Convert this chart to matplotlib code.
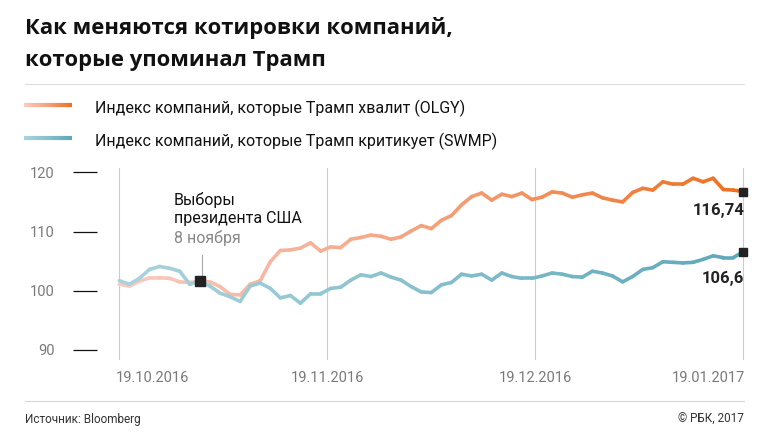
import numpy as np
import matplotlib
matplotlib.use('Agg')
import matplotlib.pyplot as plt
from matplotlib.collections import LineCollection
from matplotlib.colors import LinearSegmentedColormap

plt.rcParams['font.family'] = ['Roboto', 'DejaVu Sans']

# данные (торговые дни, индекс = 100 на старте)
olgy = [101.1, 100.8, 101.6, 102.2, 102.2, 102.1, 101.5, 101.4, 101.6, 101.5,
        100.7, 99.4, 99.3, 101.1, 101.7, 104.9, 106.8, 106.9, 107.2, 108.1,
        106.7, 107.4, 107.3, 108.7, 109.0, 109.4, 109.2, 108.7, 109.1, 110.1,
        111.0, 110.5, 111.9, 112.7, 114.5, 115.9, 116.5, 115.3, 116.3, 115.9,
        116.5, 115.4, 115.8, 116.7, 116.5, 115.8, 116.2, 116.5, 115.7, 115.3,
        115.0, 116.6, 117.3, 117.0, 118.4, 118.0, 118.0, 119.0, 118.4, 119.0,
        117.1, 117.0, 116.74]
swmp = [101.7, 101.1, 102.1, 103.6, 104.1, 103.8, 103.3, 101.1, 101.6, 100.8,
        99.6, 99.0, 98.2, 100.8, 101.3, 100.4, 98.8, 99.2, 97.9, 99.5,
        99.5, 100.4, 100.6, 101.8, 102.7, 102.4, 103.0, 102.3, 101.8, 100.7,
        99.8, 99.7, 101.0, 101.4, 102.8, 102.5, 102.8, 101.8, 103.0, 102.4,
        102.1, 102.1, 102.5, 103.0, 102.8, 102.4, 102.3, 103.3, 103.0, 102.5,
        101.5, 102.4, 103.6, 103.9, 104.9, 104.8, 104.7, 104.8, 105.3, 105.9,
        105.6, 105.6, 106.6]
date_labels = ['19.10.2016', '19.11.2016', '19.12.2016', '19.01.2017']
date_pos = [0, 20.67, 41.33, 62]
election_idx = 8
y_ticks = [90, 100, 110, 120]

W, H = 768, 445
orange_cmap = LinearSegmentedColormap.from_list('o', ['#f9cac0', '#f4a17c', '#ef7020'])
blue_cmap = LinearSegmentedColormap.from_list('b', ['#a9d3dc', '#86bfcc', '#5ea8ba'])


def px(x, y):
    return x / W, 1 - y / H


def grad_line(ax, x, y, cmap, lw, z):
    pts = np.column_stack([x, y]).reshape(-1, 1, 2)
    segs = np.concatenate([pts[:-1], pts[1:]], axis=1)
    t = np.linspace(0, 1, len(segs))
    lc = LineCollection(segs, colors=cmap(t), linewidths=lw,
                        capstyle='round', joinstyle='round', zorder=z)
    ax.add_collection(lc)


fig = plt.figure(figsize=(W / 100, H / 100), dpi=100)
ax = fig.add_axes([97 / W, 85 / H, (750 - 97) / W, 192 / H])

x = np.arange(len(olgy))
ax.set_xlim(-2.216, 62.66)
ax.set_ylim(88.31, 120.73)

for s in ax.spines.values():
    s.set_visible(False)

for p in date_pos:
    ax.axvline(p, color='#cccccc', lw=0.8, zorder=1)

ax.set_xticks([])
ax.set_yticks(y_ticks)
ax.tick_params(axis='y', length=17.3, width=0.9, color='#111111', pad=13,
               labelsize=10.5, labelcolor='#7a7a7a')

grad_line(ax, x, olgy, orange_cmap, 2.6, 2)
grad_line(ax, x, swmp, blue_cmap, 2.6, 3)

# отметки в конце и выборы
ax.plot([x[-1], x[-1]], [olgy[-1], swmp[-1]], 's', color='#222222',
        markersize=5.5, zorder=5, linestyle='none')
ax.plot([election_idx], [swmp[election_idx]], 's', color='#222222',
        markersize=6.5, zorder=5)
ax.plot([election_idx + 0.2] * 2, [102.7, 106.0], color='#aaaaaa', lw=0.8, zorder=4)

# подписи дат
aligns = ['left', 'center', 'center', 'right']
for p, lab, ha in zip(date_pos, date_labels, aligns):
    xx = p - 0.3 if ha == 'left' else p + 0.15 if ha == 'right' else p
    ax.annotate(lab, xy=(xx, H - 378), xycoords=('data', 'figure pixels'),
                ha=ha, va='center', fontsize=10.5, color='#7a7a7a',
                annotation_clip=False)

# значения на конце
ax.annotate(f'{olgy[-1]:.2f}'.replace('.', ','), xy=(x[-1] + 0.1, H - 215),
            xycoords=('data', 'figure pixels'), ha='right', va='baseline',
            fontsize=12, fontweight='bold', color='#222222', annotation_clip=False)
ax.annotate(f'{swmp[-1]:.1f}'.replace('.', ','), xy=(x[-1] + 0.1, H - 283),
            xycoords=('data', 'figure pixels'), ha='right', va='baseline',
            fontsize=12, fontweight='bold', color='#222222', annotation_clip=False)

# заголовок
fig.text(*px(25, 34), 'Как меняются котировки компаний,', fontsize=15.8,
         fontweight='bold', family=['Open Sans', 'DejaVu Sans'], color='#111111')
fig.text(*px(25, 66), 'которые упоминал Трамп', fontsize=15.8,
         fontweight='bold', family=['Open Sans', 'DejaVu Sans'], color='#111111')

# легенда
t = np.linspace(0, 1, 30)
for y0, cmap, lab in [(105, orange_cmap, 'Индекс компаний, которые Трамп хвалит (OLGY)'),
                      (138, blue_cmap, 'Индекс компаний, которые Трамп критикует (SWMP)')]:
    xs = np.linspace(24, 72, 31) / W
    yy = 1 - y0 / H
    segs = [[(xs[i], yy), (xs[i + 1], yy)] for i in range(30)]
    fig.add_artist(LineCollection(segs, colors=cmap(t), linewidths=3,
                                  transform=fig.transFigure, capstyle='butt'))
    fig.text(*px(95, y0 + 8), lab, fontsize=11.5, color='#111111')

# аннотация выборов
fig.text(*px(174, 205), 'Выборы', fontsize=11.5, color='#111111')
fig.text(*px(174, 223.3), 'президента США', fontsize=11.5, color='#111111')
fig.text(*px(174, 243.3), '8 ноября', fontsize=11.5, color='#888888')

# разделители и подвал
fig.add_artist(plt.Line2D([25 / W, 744 / W], [1 - 84 / H] * 2, color='#dddddd', lw=0.8))
fig.add_artist(plt.Line2D([25 / W, 744 / W], [1 - 400.5 / H] * 2, color='#d5d5d5', lw=0.8))
fig.text(*px(25, 423), 'Источник: Bloomberg', fontsize=8.5, color='#333333')
fig.text(*px(744, 423), '© РБК, 2017', fontsize=8.5, color='#333333', ha='right')

fig.savefig('out.png', dpi=100)
